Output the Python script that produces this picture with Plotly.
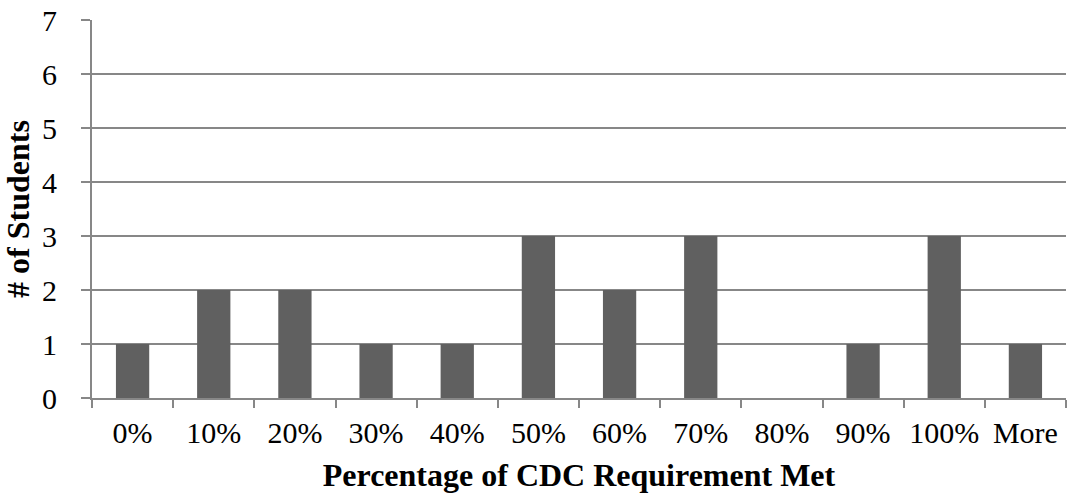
import plotly.graph_objects as go

categories = ["0%", "10%", "20%", "30%", "40%", "50%", "60%", "70%", "80%", "90%", "100%", "More"]
students = [1, 2, 2, 1, 1, 3, 2, 3, 0, 1, 3, 1]

axis_gray = "#878787"
font_family = "Liberation Serif, Times New Roman, serif"

fig = go.Figure(
    go.Bar(
        x=categories,
        y=students,
        marker=dict(color="#606060", line=dict(width=0)),
        width=0.41,
    )
)

fig.update_layout(
    width=1070,
    height=500,
    margin=dict(l=92, r=4, t=20, b=102),
    paper_bgcolor="white",
    plot_bgcolor="white",
    showlegend=False,
    font=dict(family=font_family, color="black"),
)

fig.update_xaxes(
    type="category",
    tickson="boundaries",
    ticks="outside",
    ticklen=8,
    tickwidth=2,
    tickcolor=axis_gray,
    showline=True,
    linecolor=axis_gray,
    linewidth=2,
    showgrid=False,
    tickfont=dict(size=30, family=font_family),
    ticklabelstandoff=7,
    title=dict(
        text="<b>Percentage of CDC Requirement Met</b>",
        font=dict(size=32, family=font_family),
        standoff=16,
    ),
)

fig.update_yaxes(
    range=[0, 7],
    dtick=1,
    ticks="outside",
    ticklen=9,
    tickwidth=2,
    tickcolor=axis_gray,
    showline=True,
    linecolor=axis_gray,
    linewidth=2,
    showgrid=True,
    gridcolor=axis_gray,
    gridwidth=2,
    zeroline=False,
    tickfont=dict(size=30, family=font_family),
    ticklabelstandoff=18,
    title=dict(
        text="<b># of Students</b>",
        font=dict(size=32, family=font_family),
        standoff=4,
    ),
)

fig.write_html("out.html")
